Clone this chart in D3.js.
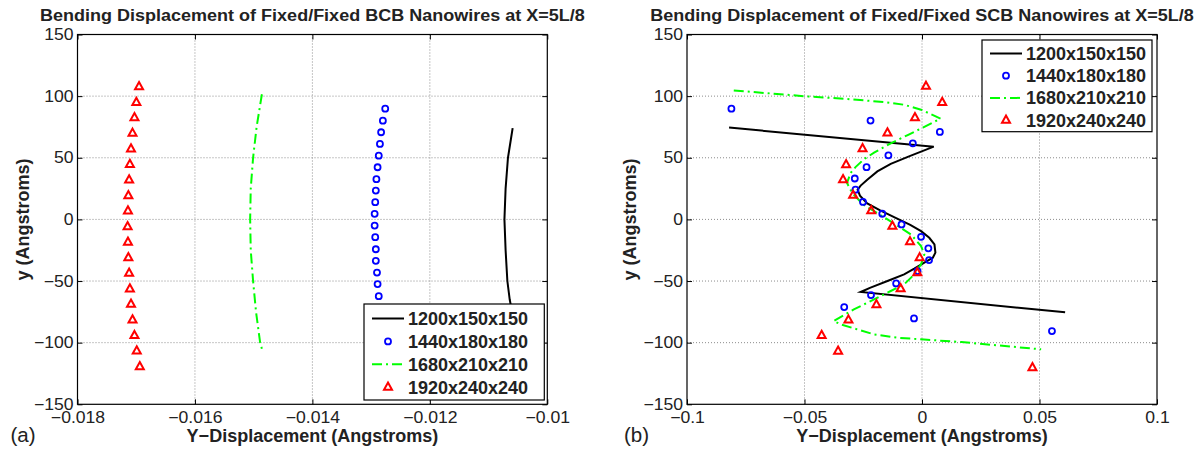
<!DOCTYPE html>
<html>
<head>
<meta charset="utf-8">
<script src="https://cdn.jsdelivr.net/npm/d3@7/dist/d3.min.js"></script>
<style>
  body { margin: 0; background: #fff; }
  svg { font-family: "Liberation Sans", Arial, Helvetica, sans-serif; }
</style>
</head>
<body>
<svg id="fig" width="1202" height="453"></svg>
<script>
// shared axis values
const yTicks = [-150, -100, -50, 0, 50, 100, 150];
const seriesNames = ["1200x150x150", "1440x180x180", "1680x210x210", "1920x240x240"];

// (a) BCB panel
const bcbXTicks = [-0.018, -0.016, -0.014, -0.012, -0.01];
const bcbXLabels = ["\u22120.018", "\u22120.016", "\u22120.014", "\u22120.012", "\u22120.01"];
const bcb1200 = [[-0.01059, 74], [-0.01062, 65], [-0.01067, 50], [-0.01071, 25], [-0.01073, 0],
  [-0.01071, -25], [-0.01068, -50], [-0.01064, -65], [-0.01060, -75]];
const bcb1440 = [[-0.01276, 89.8], [-0.01280, 80.1], [-0.01283, 70.7], [-0.01285, 61.2], [-0.01287, 51.7],
  [-0.01289, 42.3], [-0.01291, 32.6], [-0.01292, 23.4], [-0.01293, 14.0], [-0.01294, 4.5],
  [-0.01294, -5.0], [-0.01293, -14.4], [-0.01292, -24.2], [-0.01292, -33.6], [-0.01290, -43.1],
  [-0.01289, -52.5], [-0.01287, -62.3], [-0.01284, -71.8], [-0.01281, -81.3], [-0.01277, -90.8]];
const bcb1680 = [[-0.01486, 101.5], [-0.01495, 75], [-0.01501, 50], [-0.01505, 25], [-0.01506, 0],
  [-0.01505, -25], [-0.01501, -50], [-0.01496, -75], [-0.01489, -100], [-0.01486, -105]];
const bcb1920 = [[-0.016952, 107.7], [-0.016998, 95.0], [-0.017030, 82.5], [-0.017063, 69.9], [-0.017089, 57.2],
  [-0.017108, 44.6], [-0.017121, 32.0], [-0.017134, 19.3], [-0.017141, 6.9], [-0.017147, -5.8],
  [-0.017141, -18.5], [-0.017134, -31.0], [-0.017121, -43.6], [-0.017108, -56.4], [-0.017089, -68.8],
  [-0.017063, -81.5], [-0.017030, -94.2], [-0.016991, -106.6], [-0.016939, -119.4]];

// (b) SCB panel
const scbXTicks = [-0.1, -0.05, 0, 0.05, 0.1];
const scbXLabels = ["\u22120.1", "\u22120.05", "0", "0.05", "0.1"];
const scb1200 = [[-0.0821, 74.5], [0.0050, 59.0], [-0.0050, 51.5], [-0.0133, 45.0], [-0.0190, 38.9],
  [-0.0233, 32.2], [-0.0261, 27.4], [-0.0274, 24.1], [-0.0264, 19.3], [-0.0233, 12.9],
  [-0.0180, 7.5], [-0.0110, 1.0], [-0.0050, -4.5], [-0.0004, -9.5], [0.0031, -14.9],
  [0.0053, -20.3], [0.0057, -27.0], [0.0046, -31.1], [0.0010, -35.1], [-0.0033, -40.0],
  [-0.0076, -44.6], [-0.0147, -50.0], [-0.0219, -55.4], [-0.0261, -58.9], [0.0609, -75.4]];
const scb1440 = [[-0.0811, 89.8], [-0.0219, 80.2], [0.0076, 71.0], [-0.0039, 61.7], [-0.0143, 52.0],
  [-0.0236, 42.4], [-0.0286, 33.2], [-0.0283, 24.1], [-0.0251, 14.2], [-0.0169, 4.6],
  [-0.0087, -4.1], [-0.0004, -14.1], [0.0027, -23.5], [0.0030, -33.0], [-0.0019, -41.9],
  [-0.0110, -51.9], [-0.0217, -61.4], [-0.0331, -71.1], [-0.0034, -80.3], [0.0553, -90.6]];
const scb1680 = [[-0.0801, 104.6], [-0.0504, 100.0], [-0.0333, 97.9], [-0.0161, 95.2], [-0.0076, 93.0],
  [-0.0004, 89.0], [0.0079, 81.8], [0.0010, 75.1], [-0.0061, 68.4], [-0.0133, 61.7],
  [-0.0204, 54.2], [-0.0247, 48.8], [-0.0283, 42.4], [-0.0304, 37.6], [-0.0319, 29.5],
  [-0.0297, 21.5], [-0.0250, 12.0], [-0.0190, 5.0], [-0.0130, -2.0], [-0.0047, -12.2],
  [-0.0004, -21.6], [0.0010, -28.4], [-0.0004, -36.5], [-0.0040, -46.0], [-0.0076, -52.7],
  [-0.0133, -58.1], [-0.0204, -64.9], [-0.0290, -73.0], [-0.0376, -82.4], [-0.0347, -85.1],
  [-0.0276, -89.2], [-0.0204, -93.3], [-0.0104, -96.0], [-0.0004, -97.3], [0.0167, -99.5],
  [0.0507, -105.4]];
const scb1920 = [[0.0017, 108.0], [0.0086, 94.9], [-0.0030, 82.6], [-0.0147, 70.2], [-0.0253, 57.4],
  [-0.0323, 44.5], [-0.0336, 32.2], [-0.0293, 19.6], [-0.0216, 7.0], [-0.0126, -5.4],
  [-0.0051, -18.1], [-0.0010, -31.1], [-0.0020, -43.2], [-0.0091, -56.2], [-0.0194, -69.2],
  [-0.0313, -81.6], [-0.0427, -94.1], [-0.0357, -106.8], [0.0470, -120.3]];

const FONT = '"Liberation Sans", Arial, Helvetica, sans-serif';
const TEXT = "#222";
const svg = d3.select("#fig");
const triPath = "M0,-4.6L4,2.6L-4,2.6Z";

function drawPanel(p) {
  const x = d3.scaleLinear().domain([p.xTicks[0], p.xTicks[p.xTicks.length - 1]]).range([p.left, p.right]);
  const y = d3.scaleLinear().domain([-150, 150]).range([404.3, 34.5]);
  const g = svg.append("g");

  // dotted grid
  g.append("g").selectAll("line").data(p.xTicks.slice(1, -1)).join("line")
    .attr("x1", d => x(d)).attr("x2", d => x(d))
    .attr("y1", y(150)).attr("y2", y(-150));
  g.append("g").selectAll("line").data(yTicks.slice(1, -1)).join("line")
    .attr("x1", p.left).attr("x2", p.right)
    .attr("y1", d => y(d)).attr("y2", d => y(d));
  g.selectAll("line")
    .attr("stroke", "#8c8c8c").attr("stroke-width", 1).attr("stroke-dasharray", "1,2");

  const line = d3.line().x(d => x(d[0])).y(d => y(d[1]));

  g.append("path").datum(p.s1200).attr("d", line)
    .attr("fill", "none").attr("stroke", "#000").attr("stroke-width", 2);
  g.append("path").datum(p.s1680).attr("d", line)
    .attr("fill", "none").attr("stroke", "#00ff00").attr("stroke-width", 2)
    .attr("stroke-dasharray", "10,4,2,4");
  g.append("g").selectAll("circle").data(p.s1440).join("circle")
    .attr("cx", d => x(d[0])).attr("cy", d => y(d[1])).attr("r", 3)
    .attr("fill", "none").attr("stroke", "#0000ff").attr("stroke-width", 1.8);
  g.append("g").selectAll("path").data(p.s1920).join("path")
    .attr("transform", d => `translate(${x(d[0])},${y(d[1])})`)
    .attr("d", triPath)
    .attr("fill", "none").attr("stroke", "#ff0000").attr("stroke-width", 2);

  // axes with inward ticks on all four sides
  const bottom = g.append("g").attr("transform", `translate(0,${y(-150)})`)
    .call(d3.axisBottom(x).tickValues(p.xTicks).tickFormat((d, i) => p.xLabels[i])
      .tickSizeInner(-5).tickSizeOuter(0).tickPadding(7.6));
  const left = g.append("g").attr("transform", `translate(${p.left},0)`)
    .call(d3.axisLeft(y).tickValues(yTicks).tickFormat(d => d < 0 ? "\u2212" + Math.abs(d) : d)
      .tickSizeInner(-5).tickSizeOuter(0).tickPadding(3.6));
  const top = g.append("g").attr("transform", `translate(0,${y(150)})`)
    .call(d3.axisTop(x).tickValues(p.xTicks).tickFormat(() => "").tickSizeInner(-5).tickSizeOuter(0));
  const right = g.append("g").attr("transform", `translate(${p.right},0)`)
    .call(d3.axisRight(y).tickValues(yTicks).tickFormat(() => "").tickSizeInner(-5).tickSizeOuter(0));
  [bottom, left, top, right].forEach(a => {
    a.select(".domain").remove();
    a.attr("font-size", 16).attr("font-family", FONT).attr("color", "#000");
    // labels in the figure are a little wider than the plain font
    a.selectAll("text").attr("fill", TEXT).attr("transform", "scale(1.1,1)");
  });

  g.append("rect")
    .attr("x", p.left).attr("y", y(150))
    .attr("width", p.right - p.left).attr("height", y(-150) - y(150))
    .attr("fill", "none").attr("stroke", "#000").attr("stroke-width", 1.2);

  // legend
  const L = p.legend;
  const lg = g.append("g");
  lg.append("rect").attr("x", L.x0).attr("y", L.y0)
    .attr("width", L.x1 - L.x0).attr("height", L.y1 - L.y0)
    .attr("fill", "#fff").attr("stroke", "#000").attr("stroke-width", 1.2);
  seriesNames.forEach((name, i) => {
    const ry = L.row0 + i * L.dy;
    const sx0 = L.x0 + 8, sx1 = L.x0 + 40, cx = L.x0 + 24;
    if (i === 0) {
      lg.append("line").attr("x1", sx0).attr("x2", sx1).attr("y1", ry).attr("y2", ry)
        .attr("stroke", "#000").attr("stroke-width", 2);
    } else if (i === 1) {
      lg.append("circle").attr("cx", cx).attr("cy", ry).attr("r", 3)
        .attr("fill", "none").attr("stroke", "#0000ff").attr("stroke-width", 1.8);
    } else if (i === 2) {
      lg.append("line").attr("x1", sx0).attr("x2", sx1).attr("y1", ry).attr("y2", ry)
        .attr("stroke", "#00ff00").attr("stroke-width", 2).attr("stroke-dasharray", "10,4,2,4");
    } else {
      lg.append("path").attr("transform", `translate(${cx},${ry})`).attr("d", triPath)
        .attr("fill", "none").attr("stroke", "#ff0000").attr("stroke-width", 2);
    }
    lg.append("text").attr("x", L.x0 + 44).attr("y", ry).attr("dy", "0.36em")
      .attr("font-size", 18).attr("font-weight", "bold").attr("fill", TEXT).text(name);
  });

  // titles and labels
  const mid = (p.left + p.right) / 2;
  g.append("text").attr("transform", `translate(${mid},20.7) scale(1.06,1)`)
    .attr("text-anchor", "middle")
    .attr("font-size", 17).attr("font-weight", "bold").attr("fill", TEXT).text(p.title);
  g.append("text").attr("x", mid).attr("y", 442).attr("text-anchor", "middle")
    .attr("font-size", 18).attr("font-weight", "bold").attr("fill", TEXT)
    .text("Y\u2212Displacement (Angstroms)");
  g.append("text").attr("transform", `translate(${p.yLabelX},${y(0)}) rotate(-90)`)
    .attr("text-anchor", "middle")
    .attr("font-size", 18).attr("font-weight", "bold").attr("fill", TEXT).text("y (Angstroms)");
  g.append("text").attr("x", p.tagX).attr("y", 441.7)
    .attr("font-size", 20.5).attr("fill", TEXT).text(p.tag);
}

drawPanel({
  left: 77.5, right: 547.3,
  xTicks: bcbXTicks, xLabels: bcbXLabels,
  s1200: bcb1200, s1440: bcb1440, s1680: bcb1680, s1920: bcb1920,
  legend: { x0: 364, y0: 304, x1: 544.3, y1: 400, row0: 318.5, dy: 22.9 },
  title: "Bending Displacement of Fixed/Fixed BCB Nanowires at X=5L/8",
  yLabelX: 28.5, tag: "(a)", tagX: 10.5
});

drawPanel({
  left: 687, right: 1157,
  xTicks: scbXTicks, xLabels: scbXLabels,
  s1200: scb1200, s1440: scb1440, s1680: scb1680, s1920: scb1920,
  legend: { x0: 982, y0: 40, x1: 1152, y1: 131.7, row0: 53.5, dy: 22.2 },
  title: "Bending Displacement of Fixed/Fixed SCB Nanowires at X=5L/8",
  yLabelX: 636, tag: "(b)", tagX: 624
});
</script>
</body>
</html>
